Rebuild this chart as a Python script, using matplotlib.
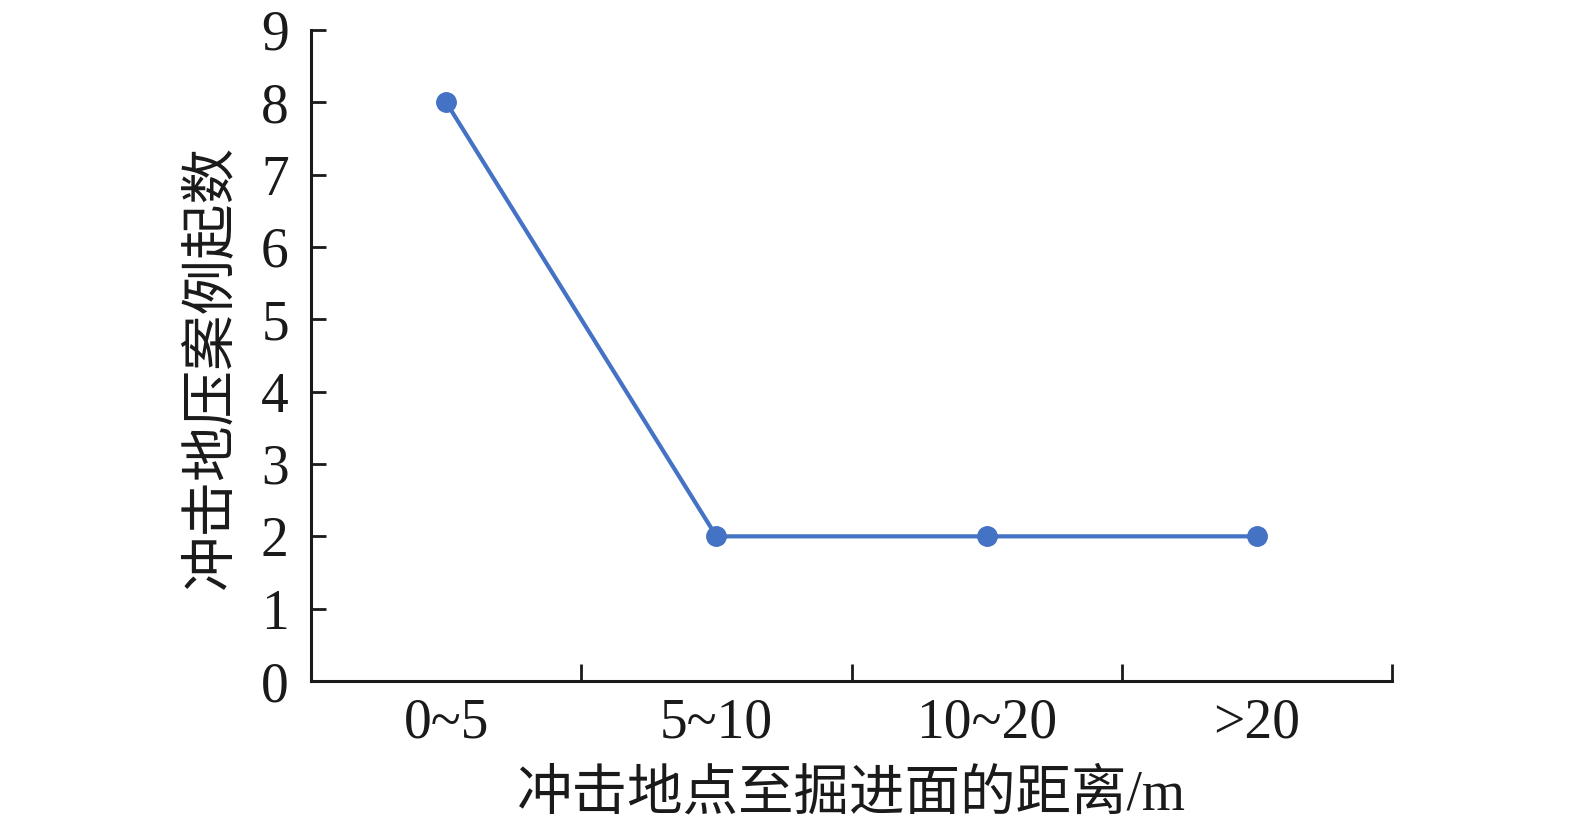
import matplotlib
matplotlib.use("Agg")
import matplotlib.pyplot as plt

# data
categories = ['0~5', '5~10', '10~20', '>20']
case_counts = [8, 2, 2, 2]
y_ticks = list(range(0, 10))

plt.rcParams['font.family'] = ['Liberation Serif', 'Noto Sans CJK SC']

fig = plt.figure(figsize=(15.75, 8.3), dpi=100)
ax = fig.add_axes([0.1975, 0.1795, 0.8838 - 0.1975, 0.9639 - 0.1795])

x = list(range(len(categories)))
ax.plot(x, case_counts, color='#4472C4', linewidth=3.0, marker='o',
        markersize=14, markerfacecolor='#4472C4', markeredgecolor='#4472C4')

ax.set_xlim(-0.5, len(categories) - 0.5)
ax.set_ylim(0, 9)

# category labels in the middle, tick marks on the boundaries
ax.set_xticks(x)
ax.set_xticklabels(categories)
ax.set_xticks([i + 0.5 for i in x], minor=True)
ax.tick_params(axis='x', which='major', length=0, pad=12, labelsize=40)
ax.tick_params(axis='x', which='minor', direction='in', length=12, width=2, color='#1a1a1a')

ax.set_yticks(y_ticks)
ax.tick_params(axis='y', direction='in', length=11, width=2, pad=16, labelsize=40,
               color='#1a1a1a')

for side in ['top', 'right']:
    ax.spines[side].set_visible(False)
for side in ['left', 'bottom']:
    ax.spines[side].set_linewidth(2.2)
    ax.spines[side].set_color('#1a1a1a')

ax.set_xlabel('冲击地点至掘进面的距离/m', fontsize=40, labelpad=14, color='#1a1a1a')
ax.set_ylabel('冲击地压案例起数', fontsize=40, color='#1a1a1a')
ax.yaxis.set_label_coords(-0.068, 0.482)

for lbl in ax.get_xticklabels() + ax.get_yticklabels():
    lbl.set_color('#1a1a1a')

fig.savefig('out.png', dpi=100)
